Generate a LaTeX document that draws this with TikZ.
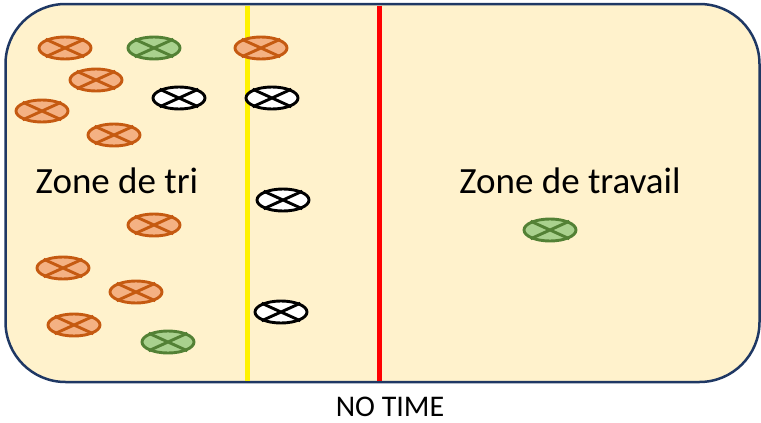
\documentclass[tikz,border=0pt]{standalone}
\usepackage{fontspec}
\setmainfont{Carlito}
\usetikzlibrary{shapes.geometric}
\definecolor{zonefill}{HTML}{FFF2CC}
\definecolor{zonedraw}{HTML}{1F3864}
\definecolor{ofill}{HTML}{F4B183}
\definecolor{odraw}{HTML}{C55A11}
\definecolor{gfill}{HTML}{A9D18E}
\definecolor{gdraw}{HTML}{538135}
\tikzset{
  xw/.style={ellipse, minimum width=52pt, minimum height=22pt, inner sep=0pt, line width=2.9pt},
  orangeball/.style={xw, draw=odraw, fill=ofill},
  greenball/.style={xw, draw=gdraw, fill=gfill},
  whiteball/.style={xw, draw=black, fill=white},
  lbl/.style={font=\fontsize{37}{40}\selectfont, anchor=base, inner sep=0pt},
}
\newcommand{\xball}[3]{%
  \node[#1] (#2) at #3 {};
  \draw[line width=2.9pt, draw=#1color] (#2.north west) -- (#2.south east) (#2.north east) -- (#2.south west);
}
\begin{document}
\begin{tikzpicture}[x=1pt,y=-1pt]
\useasboundingbox (0,0) rectangle (761,423);
\node[draw=zonedraw, fill=zonefill, line width=2.5pt, rounded corners=60pt, minimum width=754pt, minimum height=378pt, inner sep=0pt] (zone) at (382.5,193) {};
\coordinate (ytop) at (247,5.5);
\coordinate (ybot) at (247,381);
\coordinate (rtop) at (379,5.5);
\coordinate (rbot) at (379,381);
\draw[yellow, line width=5pt] (ytop) -- (ybot);
\draw[red, line width=5pt] (rtop) -- (rbot);
\colorlet{orangeballcolor}{odraw}
\colorlet{greenballcolor}{gdraw}
\colorlet{whiteballcolor}{black}
\xball{orangeball}{o1}{(65,48)}
\xball{orangeball}{o2}{(96,80)}
\xball{orangeball}{o3}{(42,111)}
\xball{orangeball}{o4}{(114,135)}
\xball{orangeball}{o5}{(261,48)}
\xball{orangeball}{o6}{(154,225)}
\xball{orangeball}{o7}{(63,268)}
\xball{orangeball}{o8}{(136,292)}
\xball{orangeball}{o9}{(74,325)}
\xball{greenball}{g1}{(154,48)}
\xball{greenball}{g2}{(168,342)}
\xball{greenball}{g3}{(550,230)}
\xball{whiteball}{w1}{(179,98)}
\xball{whiteball}{w2}{(272,98)}
\xball{whiteball}{w3}{(283,200)}
\xball{whiteball}{w4}{(281,312)}
\node[lbl] (tri) at (117,193) {Zone de tri};
\node[lbl] (travail) at (570,193) {Zone de travail};
\node[font=\fontsize{30}{32}\selectfont, anchor=base, inner sep=0pt] (notime) at (390,416) {NO TIME};
\end{tikzpicture}
\end{document}
